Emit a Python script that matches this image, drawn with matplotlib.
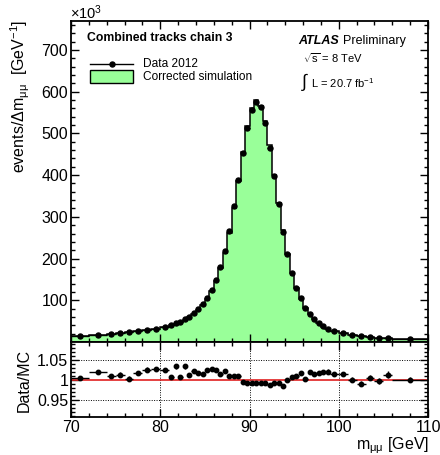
import numpy as np
import matplotlib
matplotlib.use("Agg")
import matplotlib.pyplot as plt
from matplotlib.ticker import MultipleLocator, FixedLocator, NullFormatter, FixedFormatter
from matplotlib.lines import Line2D
from matplotlib.patches import Rectangle

plt.rcParams['font.family'] = ['Liberation Sans', 'DejaVu Sans']
plt.rcParams['mathtext.fontset'] = 'custom'
plt.rcParams['mathtext.rm'] = 'Liberation Sans'
plt.rcParams['mathtext.it'] = 'Liberation Sans:italic'
plt.rcParams['mathtext.bf'] = 'Liberation Sans:bold'

# bin edges (GeV)
bin_edges = np.concatenate([[70, 72], np.arange(74, 81, 1.0), np.arange(81, 99, 0.5),
                            np.arange(99, 107, 1.0), [110]])

# data: events / GeV (x10^3)
data_vals = [14.4, 16.8, 19.2, 21.6, 24.0, 26.4, 28.8, 32.0, 36.9,
             40.0, 44.8, 48.9, 54.4, 60.9, 69.5, 79.0, 91.0, 105.5, 124.7,
             148.7, 179.0, 218.0, 265.0, 325.0, 389.0, 453.0, 513.0, 557.0, 576.0,
             562.0, 525.0, 466.0, 398.0, 330.0, 264.0, 211.0, 166.0, 130.0, 105.5,
             82.4, 68.0, 55.0, 45.6, 37.6, 31.2,
             26.4, 22.5, 17.7, 15.3, 12.0, 10.5, 8.9, 6.5]

# Data / MC ratio
ratio_vals = [1.004, 1.019, 1.009, 1.0125, 1.0025, 1.0165, 1.025, 1.0275, 1.023,
              1.0065, 1.033, 1.0065, 1.033, 1.011, 1.0215, 1.0175, 1.014, 1.025, 1.0275,
              1.025, 1.013, 1.0215, 1.010, 1.010, 1.010, 0.994, 0.9925, 0.992, 0.992,
              0.992, 0.992, 0.986, 0.9925, 0.992, 0.985, 1.000, 1.006, 1.009, 1.0165,
              1.0015, 1.019, 1.014, 1.0175, 1.019, 1.020,
              1.015, 1.015, 1.000, 0.990, 1.005, 0.9965, 1.0125, 1.000]

ratio_errs = [0.006, 0.005, 0.006, 0.006, 0.006, 0.006, 0.006, 0.005, 0.005,
              0.006, 0.006, 0.006, 0.006, 0.005, 0.005, 0.005, 0.004, 0.004, 0.004,
              0.003, 0.003, 0.003, 0.002, 0.002, 0.002, 0.002, 0.002, 0.002, 0.002,
              0.002, 0.002, 0.002, 0.002, 0.002, 0.002, 0.002, 0.003, 0.003, 0.004,
              0.004, 0.005, 0.005, 0.005, 0.006, 0.006,
              0.005, 0.005, 0.006, 0.007, 0.007, 0.008, 0.008, 0.006]

ratio_tick_labels = ['0.95', '1', '1.05']

data = np.array(data_vals)
ratio = np.array(ratio_vals)
mc = data / ratio
edges = bin_edges
centers = 0.5 * (edges[:-1] + edges[1:])
halfw = 0.5 * (edges[1:] - edges[:-1])

W, H = 440, 455
fig = plt.figure(figsize=(W / 100, H / 100), dpi=100)

def fx(px):
    return px / W

def fy(py):
    return 1 - py / H

L, R = 71, 428
T, M, B = 20.7, 342, 417.3
ax = fig.add_axes([fx(L), fy(M), fx(R) - fx(L), fy(T) - fy(M)])
axr = fig.add_axes([fx(L), fy(B), fx(R) - fx(L), fy(M) - fy(B)])

green = '#99ff99'
# MC histogram
ax.stairs(mc, edges, fill=True, color=green, zorder=1)
ax.stairs(mc, edges, color='black', lw=1.1, zorder=2)
# Data points
ax.errorbar(centers, data, xerr=halfw, fmt='o', color='black', ms=3.6, lw=1.0,
            capsize=0, zorder=3)

ax.set_xlim(70, 110)
ax.set_ylim(0, 770)
for a in (ax, axr):
    a.tick_params(which='both', direction='in', top=True, right=True, width=1.0)
    a.tick_params(which='major', length=6)
    a.tick_params(which='minor', length=3)
    for s in a.spines.values():
        s.set_linewidth(1.3)
    a.xaxis.set_major_locator(MultipleLocator(10))
    a.xaxis.set_minor_locator(MultipleLocator(2))
ax.yaxis.set_major_locator(FixedLocator([100, 200, 300, 400, 500, 600, 700]))
ax.yaxis.set_minor_locator(MultipleLocator(20))
ax.xaxis.set_major_formatter(NullFormatter())
ax.tick_params(axis='y', labelsize=11.5, pad=2)

# ratio panel
axr.errorbar(centers, ratio, xerr=halfw, yerr=ratio_errs, fmt='o', color='black',
             ms=3.2, lw=1.0, capsize=0, zorder=3)
axr.axhline(1.0, color='#e02020', lw=1.2, zorder=2)
for yv in (0.95, 1.05):
    axr.axhline(yv, color='black', lw=0.7, ls=(0, (1, 1.5)), zorder=1)
for xv in (80, 90, 100):
    axr.axvline(xv, color='black', lw=0.7, ls=(0, (1, 1.5)), zorder=1)
axr.set_xlim(70, 110)
axr.set_ylim(0.906, 1.094)
axr.yaxis.set_major_locator(FixedLocator([0.95, 1.0, 1.05]))
axr.yaxis.set_major_formatter(FixedFormatter(ratio_tick_labels))
axr.yaxis.set_minor_locator(MultipleLocator(0.01))
axr.tick_params(axis='both', labelsize=11.5, pad=2)
axr.tick_params(axis='x', pad=2)

# labels
fig.text(fx(20), fy(20), r'events/$\Delta$m$_{\mathrm{μμ}}$  [GeV$^{-1}$]', rotation=90,
         ha='center', va='top', fontsize=11.5)
fig.text(fx(70), fy(18.5), r'$\times$10$^{3}$', ha='left', va='baseline', fontsize=10.5)
fig.text(fx(24), fy(380), 'Data/MC', rotation=90, ha='center', va='center', fontsize=11.5)
fig.text(fx(429), fy(449), r'm$_{\mathrm{μμ}}$ [GeV]', ha='right', va='baseline', fontsize=11.5)

# legend
fig.text(fx(87), fy(38), 'Combined tracks chain 3', fontweight='bold', ha='left',
         va='center', fontsize=8.8)
fig.add_artist(Line2D([fx(90), fx(133)], [fy(64), fy(64)], color='black', lw=1.0))
fig.add_artist(Line2D([fx(111.5)], [fy(64)], marker='o', ms=3.6, color='black'))
fig.text(fx(143), fy(64), 'Data 2012', ha='left', va='center', fontsize=8.6)
fig.add_artist(Rectangle((fx(90), fy(83)), fx(133) - fx(90), fy(70) - fy(83),
                         facecolor=green, edgecolor='black', lw=1.0,
                         transform=fig.transFigure))
fig.text(fx(143), fy(77), 'Corrected simulation', ha='left', va='center', fontsize=8.6)

fig.text(fx(298), fy(41), 'ATLAS', fontweight='bold', fontstyle='italic', ha='left',
         va='center', fontsize=9)
fig.text(fx(343), fy(41), 'Preliminary', ha='left', va='center', fontsize=9)
fig.text(fx(303), fy(58), r'$\sqrt{\mathrm{s}}$ = 8 TeV', ha='left', va='center', fontsize=8)
fig.text(fx(301), fy(82), r'$\int$', ha='left', va='center', fontsize=13)
fig.text(fx(311), fy(83), r'L = 20.7 fb$^{-1}$', ha='left', va='center', fontsize=8)

fig.savefig('out.png', dpi=100)
